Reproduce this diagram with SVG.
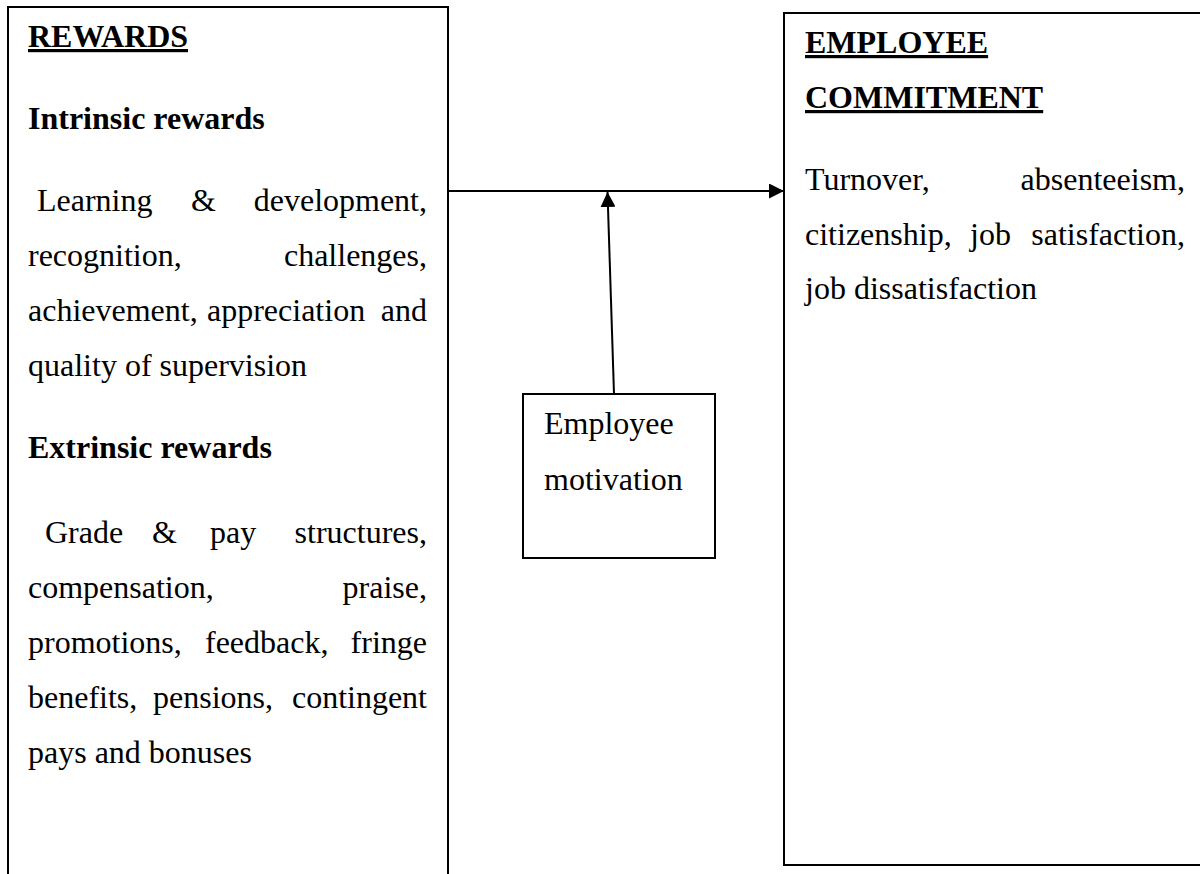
<svg xmlns="http://www.w3.org/2000/svg" width="1200" height="874" viewBox="0 0 1200 874">
  <style>
    .box { fill: #ffffff; stroke: #000000; stroke-width: 2; }
    .conn { stroke: #000000; stroke-width: 2; fill: none; }
    text { font-family: "Liberation Serif", "Times New Roman", serif; font-size: 32px; fill: #000000; }
    .b { font-weight: bold; }
    .u { text-decoration: underline; }
    .e { text-anchor: end; }
  </style>
  <defs>
    <marker id="arrow" viewBox="0 0 15 15" refX="15" refY="7.5" markerWidth="15" markerHeight="15" markerUnits="userSpaceOnUse" orient="auto">
      <path d="M0,0 L15,7.5 L0,15 z" fill="#000000"/>
    </marker>
  </defs>
  <rect width="1200" height="874" fill="#ffffff"/>

  <g id="rewards">
    <rect class="box" x="8" y="7" width="440" height="880"/>
    <text class="b u" x="28" y="47">REWARDS</text>
    <text class="b" x="28" y="129">Intrinsic rewards</text>
    <text x="37" y="211">Learning</text>
    <text x="191" y="211">&amp;</text>
    <text class="e" x="427" y="211">development,</text>
    <text x="28" y="266">recognition,</text>
    <text class="e" x="427" y="266">challenges,</text>
    <text x="28" y="321">achievement,</text>
    <text x="207" y="321">appreciation</text>
    <text class="e" x="427" y="321">and</text>
    <text x="28" y="376">quality of supervision</text>
    <text class="b" x="28" y="458">Extrinsic rewards</text>
    <text x="45" y="543">Grade</text>
    <text x="152" y="543">&amp;</text>
    <text x="210" y="543">pay</text>
    <text class="e" x="427" y="543">structures,</text>
    <text x="28" y="598">compensation,</text>
    <text class="e" x="427" y="598">praise,</text>
    <text x="28" y="653">promotions,</text>
    <text x="205" y="653">feedback,</text>
    <text class="e" x="427" y="653">fringe</text>
    <text x="28" y="708">benefits,</text>
    <text x="153" y="708">pensions,</text>
    <text class="e" x="427" y="708">contingent</text>
    <text x="28" y="763">pays and bonuses</text>
  </g>

  <g id="commitment">
    <rect class="box" x="784" y="13" width="430" height="852"/>
    <text class="b u" x="805" y="53">EMPLOYEE</text>
    <text class="b u" x="805" y="108">COMMITMENT</text>
    <text x="805" y="190">Turnover,</text>
    <text class="e" x="1185" y="190">absenteeism,</text>
    <text x="805" y="245">citizenship,</text>
    <text x="970" y="245">job</text>
    <text class="e" x="1185" y="245">satisfaction,</text>
    <text x="805" y="299">job dissatisfaction</text>
  </g>

  <g id="motivation">
    <rect class="box" x="523" y="394" width="192" height="164"/>
    <text x="544" y="434">Employee</text>
    <text x="544" y="490">motivation</text>
  </g>

  <g id="connectors">
    <line class="conn" x1="448" y1="191" x2="784" y2="191" marker-end="url(#arrow)"/>
    <line class="conn" x1="614" y1="394" x2="607.5" y2="192" marker-end="url(#arrow)"/>
  </g>
</svg>
